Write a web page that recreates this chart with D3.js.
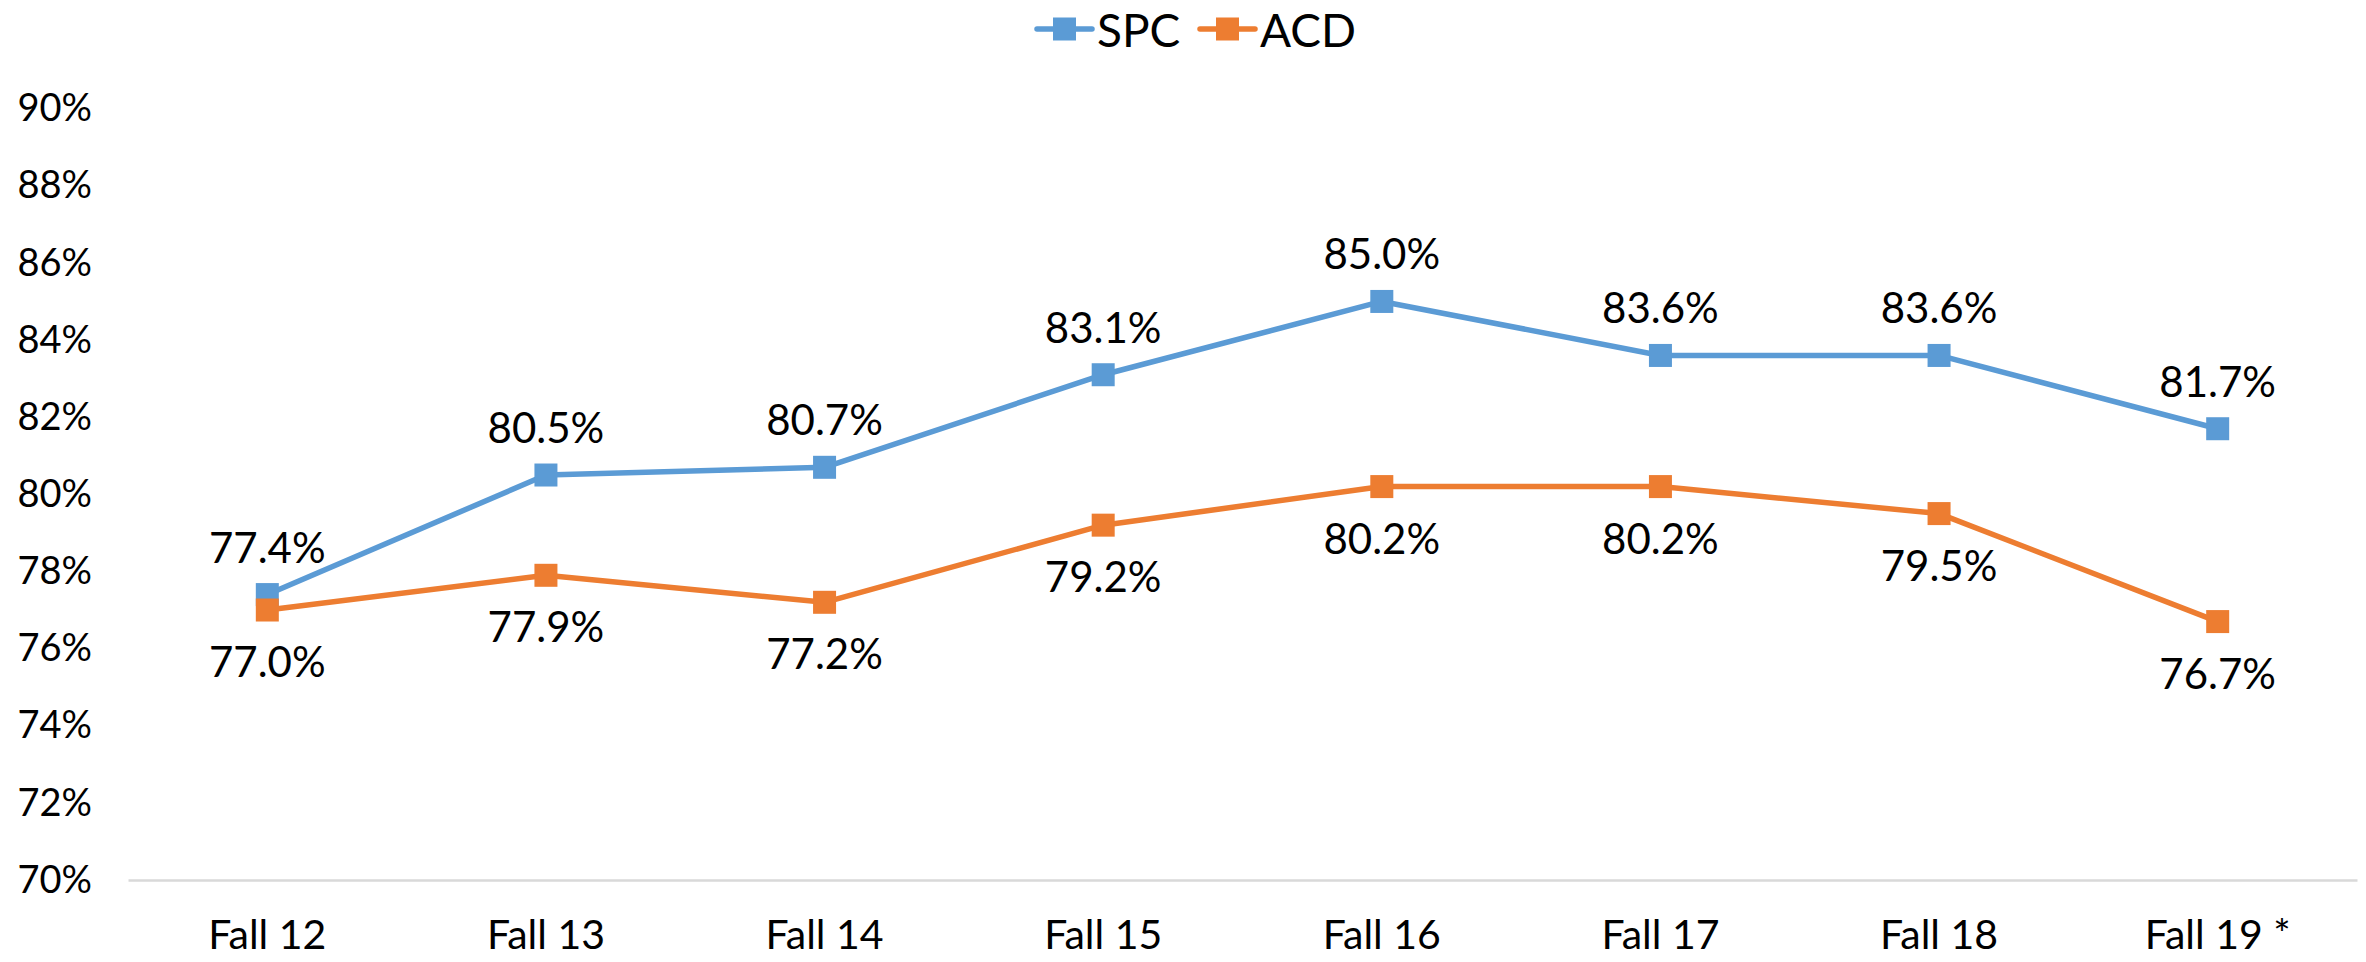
<!DOCTYPE html>
<html>
<head>
<meta charset="utf-8">
<script src="https://cdn.jsdelivr.net/npm/d3@7"></script>
<style>
  body { margin: 0; background: #fff; }
  text { font-family: Lato, "Open Sans", sans-serif; fill: #000; }
</style>
</head>
<body>
<div id="chart"></div>
<script>

  var terms = ["Fall 12", "Fall 13", "Fall 14", "Fall 15", "Fall 16", "Fall 17", "Fall 18", "Fall 19 *"];
  var spc = [77.4, 80.5, 80.7, 83.1, 85.0, 83.6, 83.6, 81.7];
  var acd = [77.0, 77.9, 77.2, 79.2, 80.2, 80.2, 79.5, 76.7];
  var yTicks = [70, 72, 74, 76, 78, 80, 82, 84, 86, 88, 90];
  var seriesNames = ["SPC", "ACD"];
  var seriesColors = ["#5B9BD5", "#ED7D31"];

  var width = 2366;
  var height = 962;
  var marginleft = 128;
  var marginright = 9;
  var margintop = 108.6;
  var plotbottom = 880;

  var svg = d3.select("#chart")
    .append("svg")
    .attr("width", width)
    .attr("height", height);

  var xScale = d3.scaleBand()
    .domain(terms)
    .range([marginleft, width - marginright]);

  var yScale = d3.scaleLinear()
    .domain([70, 90])
    .range([plotbottom, margintop]);

  // y axis labels, no line
  var yaxis = svg.append("g")
    .attr("transform", "translate(" + 92 + ",0)")
    .call(d3.axisLeft(yScale).tickValues(yTicks).tickSize(0).tickPadding(0)
      .tickFormat(function(d) { return d + "%"; }));
  yaxis.select(".domain").remove();
  yaxis.selectAll("text")
    .style("font-size", "38px")
    .style("font-family", "Lato, sans-serif")
    .attr("fill", "#000");

  // x axis, light gray base line
  var xaxis = svg.append("g")
    .attr("transform", "translate(0," + plotbottom + ")")
    .call(d3.axisBottom(xScale).tickSize(0).tickPadding(0).tickSizeOuter(0));
  xaxis.select(".domain")
    .attr("stroke", "#D9D9D9")
    .attr("stroke-width", 2.5);
  xaxis.selectAll("text")
    .attr("dy", "0")
    .attr("y", 69)
    .style("font-size", "41px")
    .style("font-family", "Lato, sans-serif")
    .attr("fill", "#000");

  var series = [
    { name: "SPC", values: spc, color: seriesColors[0], labelDy: -48 },
    { name: "ACD", values: acd, color: seriesColors[1], labelDy: 51 }
  ];

  var line = d3.line()
    .x(function(d, i) { return xScale(terms[i]) + xScale.bandwidth() / 2; })
    .y(function(d) { return yScale(d); });

  var msize = 23;

  series.forEach(function(s) {
    var g = svg.append("g");

    g.append("path")
      .datum(s.values)
      .attr("d", line)
      .attr("fill", "none")
      .attr("stroke", s.color)
      .attr("stroke-width", 5.5)
      .attr("stroke-linejoin", "round")
      .attr("stroke-linecap", "round");

    g.selectAll("rect")
      .data(s.values)
      .enter()
      .append("rect")
      .attr("x", function(d, i) { return xScale(terms[i]) + xScale.bandwidth() / 2 - msize / 2; })
      .attr("y", function(d) { return yScale(d) - msize / 2; })
      .attr("width", msize)
      .attr("height", msize)
      .attr("fill", s.color);

    g.selectAll("text")
      .data(s.values)
      .enter()
      .append("text")
      .attr("x", function(d, i) { return xScale(terms[i]) + xScale.bandwidth() / 2; })
      .attr("y", function(d) { return yScale(d) + s.labelDy; })
      .attr("text-anchor", "middle")
      .attr("dominant-baseline", "central")
      .style("font-size", "42px")
      .text(function(d) { return d.toFixed(1) + "%"; });
  });

  // legend
  var legendX = [1037, 1200];
  var legendY = 29;
  var legend = svg.append("g");
  series.forEach(function(s, i) {
    var lg = legend.append("g").attr("transform", "translate(" + legendX[i] + "," + legendY + ")");
    lg.append("line")
      .attr("x1", 0).attr("x2", 55)
      .attr("y1", 0).attr("y2", 0)
      .attr("stroke", s.color)
      .attr("stroke-width", 5.5)
      .attr("stroke-linecap", "round");
    lg.append("rect")
      .attr("x", 27.5 - msize / 2)
      .attr("y", -msize / 2)
      .attr("width", msize)
      .attr("height", msize)
      .attr("fill", s.color);
    lg.append("text")
      .attr("x", 60)
      .attr("y", 0)
      .attr("dominant-baseline", "central")
      .style("font-size", "46px")
      .text(s.name);
  });

</script>
</body>
</html>
